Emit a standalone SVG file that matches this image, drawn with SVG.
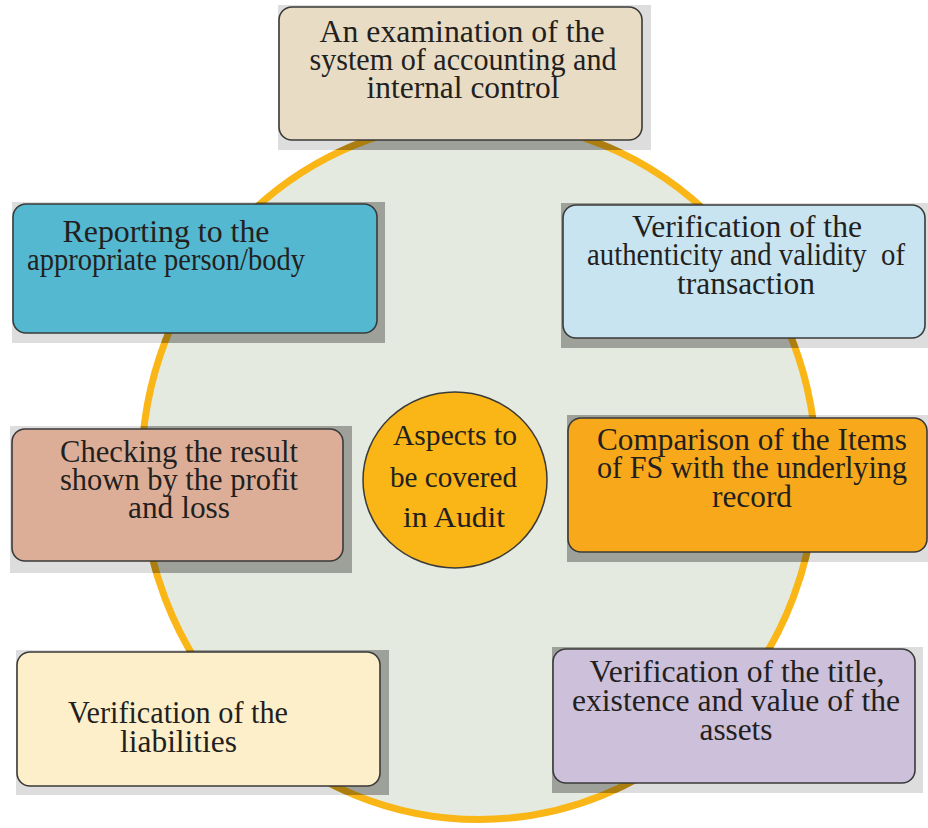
<svg xmlns="http://www.w3.org/2000/svg" width="928" height="828" viewBox="0 0 928 828">
<style>
.shadow{fill:#dddddd}
.shade{fill:#000000;fill-opacity:0.31}
.box{stroke:#3a3a3a;stroke-width:1.6}
.t{font-family:"Liberation Serif","Times New Roman",serif;font-size:31.5px;fill:#231f20;text-anchor:middle}
.c{font-family:"Liberation Serif","Times New Roman",serif;font-size:30px;fill:#231f20;text-anchor:middle}
</style>
<defs>
<clipPath id="ring">
<ellipse cx="479" cy="470" rx="341" ry="353"/>
</clipPath>
</defs>
<rect width="928" height="828" fill="#ffffff"/>
<g id="shadows">
<rect class="shadow" x="278" y="5" width="373" height="145"/>
<rect class="shadow" x="12" y="202" width="373" height="141"/>
<rect class="shadow" x="561" y="203" width="367" height="145"/>
<rect class="shadow" x="10" y="426" width="342" height="147"/>
<rect class="shadow" x="567" y="415" width="361" height="147"/>
<rect class="shadow" x="16" y="650" width="373" height="145"/>
<rect class="shadow" x="552" y="647" width="371" height="146"/>
</g>
<g id="background-circle">
<ellipse cx="479" cy="470" rx="337.5" ry="349.5" fill="#e4eadf" stroke="#f9b616" stroke-width="7"/>
</g>
<g id="shadow-overlay" clip-path="url(#ring)">
<rect class="shade" x="278" y="5" width="373" height="145"/>
<rect class="shade" x="12" y="202" width="373" height="141"/>
<rect class="shade" x="561" y="203" width="367" height="145"/>
<rect class="shade" x="10" y="426" width="342" height="147"/>
<rect class="shade" x="567" y="415" width="361" height="147"/>
<rect class="shade" x="16" y="650" width="373" height="145"/>
<rect class="shade" x="552" y="647" width="371" height="146"/>
</g>
<g id="node-examination">
<rect class="box" x="279" y="7" width="363" height="133" rx="13" fill="#e8dcc4"/>
<text class="t" x="462" y="42" textLength="285" lengthAdjust="spacingAndGlyphs">An examination of the</text>
<text class="t" x="463" y="70" textLength="307" lengthAdjust="spacingAndGlyphs">system of accounting and</text>
<text class="t" x="463" y="98" textLength="193" lengthAdjust="spacingAndGlyphs">internal control</text>
</g>
<g id="node-reporting">
<rect class="box" x="13" y="204" width="364" height="129" rx="13" fill="#54b8d0"/>
<text class="t" x="166" y="242" textLength="207" lengthAdjust="spacingAndGlyphs">Reporting to the</text>
<text class="t" x="166" y="270" textLength="278" lengthAdjust="spacingAndGlyphs">appropriate person/body</text>
</g>
<g id="node-authenticity">
<rect class="box" x="563" y="205" width="362" height="133" rx="13" fill="#c9e4f1"/>
<text class="t" x="747" y="237" textLength="230" lengthAdjust="spacingAndGlyphs">Verification of the</text>
<text class="t" x="746" y="265" xml:space="preserve" textLength="318" lengthAdjust="spacingAndGlyphs">authenticity and validity  of</text>
<text class="t" x="746" y="294" textLength="138" lengthAdjust="spacingAndGlyphs">transaction</text>
</g>
<g id="node-checking">
<rect class="box" x="12" y="429" width="331" height="132" rx="13" fill="#dcae98"/>
<text class="t" x="179" y="462" textLength="238" lengthAdjust="spacingAndGlyphs">Checking the result</text>
<text class="t" x="179" y="490" textLength="238" lengthAdjust="spacingAndGlyphs">shown by the profit</text>
<text class="t" x="179" y="518" textLength="102" lengthAdjust="spacingAndGlyphs">and loss</text>
</g>
<g id="node-comparison">
<rect class="box" x="568" y="418" width="359" height="134" rx="13" fill="#f7a81b"/>
<text class="t" x="752" y="450" textLength="310" lengthAdjust="spacingAndGlyphs">Comparison of the Items</text>
<text class="t" x="752" y="478" textLength="310" lengthAdjust="spacingAndGlyphs">of FS with the underlying</text>
<text class="t" x="752" y="507" textLength="80" lengthAdjust="spacingAndGlyphs">record</text>
</g>
<g id="node-liabilities">
<rect class="box" x="17" y="652" width="363" height="134" rx="13" fill="#feefcb"/>
<text class="t" x="178" y="723" textLength="220" lengthAdjust="spacingAndGlyphs">Verification of the</text>
<text class="t" x="178.5" y="752" textLength="117" lengthAdjust="spacingAndGlyphs">liabilities</text>
</g>
<g id="node-assets">
<rect class="box" x="553" y="649" width="362" height="134" rx="13" fill="#cdc0da"/>
<text class="t" x="737" y="682" textLength="295" lengthAdjust="spacingAndGlyphs">Verification of the title,</text>
<text class="t" x="736" y="711" textLength="328" lengthAdjust="spacingAndGlyphs">existence and value of the</text>
<text class="t" x="736" y="740" textLength="73" lengthAdjust="spacingAndGlyphs">assets</text>
</g>
<g id="node-center">
<ellipse cx="455" cy="480" rx="92" ry="88" fill="#f9b616" stroke="#3a3a3a" stroke-width="1.5"/>
<text class="c" x="455" y="445" textLength="124" lengthAdjust="spacingAndGlyphs">Aspects to</text>
<text class="c" x="453.5" y="487" textLength="127" lengthAdjust="spacingAndGlyphs">be covered</text>
<text class="c" x="454" y="527" textLength="102" lengthAdjust="spacingAndGlyphs">in Audit</text>
</g>
</svg>
